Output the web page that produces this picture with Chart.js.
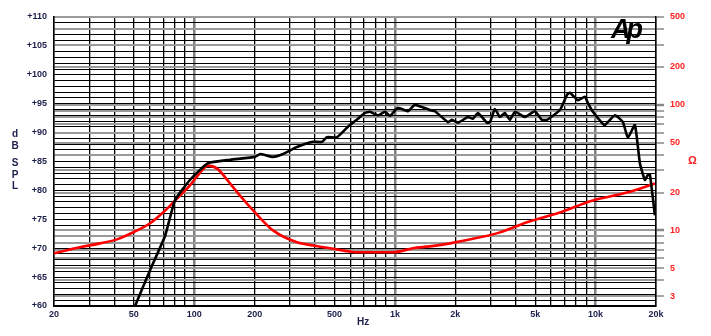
<!DOCTYPE html>
<html>
<head>
<meta charset="utf-8">
<script src="https://cdn.jsdelivr.net/npm/chart.js@4.4.1/dist/chart.umd.min.js"></script>
<style>
  body { margin: 0; background: #fff; }
  #wrap { position: relative; width: 711px; height: 336px; font-family: "Liberation Sans", Arial, sans-serif; }
  .lbl { position: absolute; font-weight: bold; }
  #dbspl { left: 9px; top: 128px; width: 12px; text-align: center; color: #1c1f4a; font-size: 10px; line-height: 11.5px; }
  #ohm { left: 688px; top: 154px; color: #ff2020; font-size: 11px; }
  #hz { left: 357px; top: 316px; color: #1c1f4a; font-size: 10px; }
  #logo { left: 611px; top: 14px; font-size: 27px; font-weight: 900; font-style: italic; letter-spacing: -4px; color: #000; }
</style>
</head>
<body>
<div id="wrap">
  <canvas id="myChart" width="711" height="336"></canvas>
  <div class="lbl" id="dbspl">d<br>B<br><span style="display:block;height:6px"></span>S<br>P<br>L</div>
  <div class="lbl" id="ohm">Ω</div>
  <div class="lbl" id="hz">Hz</div>
  <div class="lbl" id="logo">Ap</div>
</div>
<script>
// ------------ data -------------

// SPL response (black, left axis)
const splFreq = [50.7, 60.2, 71.5, 80.2, 95.2, 117,
  151, 201, 213, 247, 277, 325, 390, 433, 458, 514, 583, 654, 709, 751, 823, 892, 944,
  1035, 1161, 1258, 1494, 1583, 1837, 1924, 2061, 2311, 2448, 2592,
  2874, 2975, 3150, 3336, 3532, 3741, 3963, 4445, 4985, 5402, 5722, 6641, 7194, 7447,
  8164, 8845, 9157, 9696, 10752, 11130, 12484, 13682, 14488, 15698, 16628, 17610, 18226, 18650, 19748];
const splDb = [60.0, 66.2, 72.1, 78.3, 81.8, 84.7,
  85.3, 85.8, 86.3, 85.8, 86.3, 87.5, 88.4, 88.4, 89.2, 89.2, 91.0, 92.4, 93.4, 93.6, 93.0, 93.6, 92.9,
  94.3, 93.7, 94.8, 93.9, 93.7, 91.8, 92.2, 91.7, 92.7, 92.4, 93.4,
  91.7, 91.8, 94.1, 92.7, 93.4, 92.2, 93.6, 92.7, 93.7, 92.2, 92.2, 93.9, 96.5, 96.9,
  95.6, 96.2, 95.1, 93.6, 91.7, 91.3, 93.0, 91.8, 89.1, 91.3, 84.7, 81.8, 82.7, 82.7, 75.7];

// impedance (red, right axis)
const impFreq = [20, 26.9, 33.9, 41.2, 49.5, 60.2, 69.9, 82, 95.2, 107, 117, 130, 151, 169, 205,
  247, 325, 390, 475, 669, 978, 1230, 1494, 1880, 2652, 3336, 4548, 6641, 9696, 14322, 19748];
const impOhm = [6.57, 7.33, 7.88, 8.48, 9.64, 11.4, 13.9, 17.9, 22.8, 28.9, 32.8, 31.0, 23.6, 18.9, 13.4,
  10.0, 8.03, 7.60, 7.20, 6.69, 6.69, 7.20, 7.46, 7.88, 8.80, 9.64, 11.6, 13.9, 17.3, 20.0, 23.6];

// axes
const freqGrid = [20, 30, 40, 50, 60, 70, 80, 90, 100, 200, 300, 400, 500, 600, 700, 800, 900,
  1000, 2000, 3000, 4000, 5000, 6000, 7000, 8000, 9000, 10000, 20000];
const freqLabels = {20: '20', 50: '50', 100: '100', 200: '200', 500: '500', 1000: '1k',
  2000: '2k', 5000: '5k', 10000: '10k', 20000: '20k'};
const ohmGrid = [3, 4, 5, 6, 7, 8, 9, 10, 20, 30, 40, 50, 60, 70, 80, 90, 100, 200, 300, 400, 500];
const ohmLabels = [3, 5, 10, 20, 50, 100, 200, 500];

const toPts = (xs, ys) => xs.map((x, i) => ({x: x, y: ys[i]}));

const data = {
  datasets: [{
    label: 'SPL',
    data: toPts(splFreq, splDb),
    borderColor: '#000',
    borderWidth: 2.6,
    pointRadius: 0,
    tension: 0.15,
    yAxisID: 'y'
  },
  {
    label: 'Impedance',
    data: toPts(impFreq, impOhm),
    borderColor: '#ff0000',
    borderWidth: 2.6,
    pointRadius: 0,
    cubicInterpolationMode: 'monotone',
    yAxisID: 'y2'
  }]
};

const tickFont = {family: '"Liberation Sans", Arial, sans-serif', size: 9, weight: 'bold'};

const config = {
  type: 'line',
  data: data,
  options: {
    responsive: false,
    animation: false,
    layout: {padding: {top: 17, left: 0, right: 0, bottom: 0}},
    plugins: {legend: {display: false}, tooltip: {enabled: false}},
    scales: {
      x: {
        type: 'logarithmic',
        min: 20, max: 20000,
        afterBuildTicks: s => { s.ticks = freqGrid.map(v => ({value: v})); },
        afterFit: s => { s.height = 30; },
        ticks: {
          autoSkip: false, maxRotation: 0, padding: 3,
          color: '#1c1f4a', font: tickFont,
          callback: v => freqLabels[v] || ''
        },
        grid: {
          drawTicks: false,
          color: c => [100, 1000, 10000].includes(c.tick && c.tick.value) ? '#808080' : '#000',
          lineWidth: c => [100, 1000, 10000].includes(c.tick && c.tick.value) ? 2.5 : 1.3
        },
        border: {color: '#000', width: 1.5}
      },
      y: {
        position: 'left',
        min: 60, max: 110,
        afterFit: s => { s.width = 54; },
        ticks: {
          stepSize: 1, autoSkip: false, padding: 7,
          color: '#1c1f4a', font: tickFont,
          callback: v => v % 5 === 0 ? '+' + v : ''
        },
        grid: {drawTicks: false, color: '#000', lineWidth: 1},
        border: {color: '#000', width: 1.5}
      },
      y2: {
        type: 'logarithmic',
        position: 'right',
        min: 2.5, max: 500,
        afterBuildTicks: s => { s.ticks = ohmGrid.map(v => ({value: v})); },
        afterFit: s => { s.width = 55; },
        ticks: {
          autoSkip: false, padding: 6,
          color: '#ff2020', font: tickFont,
          callback: v => ohmLabels.includes(v) ? String(v) : ''
        },
        grid: {
          color: '#9a9a9a', lineWidth: 2,
          tickLength: 8, tickColor: '#888',
          tickWidth: c => [10, 100].includes(c.tick && c.tick.value) ? 2.5 : 1.5
        },
        border: {color: '#000', width: 1.5}
      }
    }
  }
};

var myChart = new Chart(document.getElementById('myChart'), config);
</script>
</body>
</html>
